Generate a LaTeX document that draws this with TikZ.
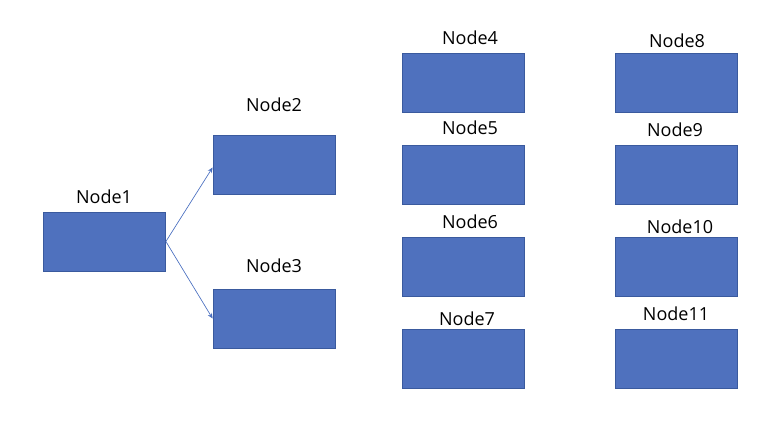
\documentclass[tikz,border=0pt]{standalone}
\usepackage{fontspec}
\setmainfont{Open Sans}
\usetikzlibrary{arrows.meta}
\definecolor{boxfill}{HTML}{4F71BE}
\definecolor{boxline}{HTML}{3A5A9E}
\definecolor{arrowc}{HTML}{4A6FC0}
\tikzset{
  blockbox/.style={draw=boxline, line width=0.6pt, fill=boxfill, minimum width=122*0.75pt, minimum height=59*0.75pt, inner sep=0pt},
  lbl/.style={font=\fontsize{13.5}{16}\selectfont, text=black, inner sep=0pt},
  conn/.style={draw=arrowc, line width=0.5pt, -{Stealth[length=4pt,width=3.5pt]}}
}
\begin{document}
\begin{tikzpicture}[x=0.75pt,y=-0.75pt]
\useasboundingbox (0,0) rectangle (774,424);
\node[blockbox] (n1) at (104.5,241.5) {};
\node[blockbox] (n2) at (274,164.5) {};
\node[blockbox] (n3) at (274,318.5) {};
\node[blockbox] (n4) at (463,82.5) {};
\node[blockbox] (n5) at (463,174.5) {};
\node[blockbox] (n6) at (463,266.5) {};
\node[blockbox] (n7) at (463,358.5) {};
\node[blockbox] (n8) at (676.5,82.5) {};
\node[blockbox] (n9) at (676.5,174.5) {};
\node[blockbox] (n10) at (676.5,266.5) {};
\node[blockbox] (n11) at (676.5,358.5) {};
\node[lbl] (l1) at (104,197) {Node1};
\node[lbl] (l2) at (274,105) {Node2};
\node[lbl] (l3) at (274,266) {Node3};
\node[lbl] (l4) at (470,38) {Node4};
\node[lbl] (l5) at (470,128) {Node5};
\node[lbl] (l6) at (470,222) {Node6};
\node[lbl] (l7) at (467,319) {Node7};
\node[lbl] (l8) at (677,41) {Node8};
\node[lbl] (l9) at (675,130) {Node9};
\node[lbl] (l10) at (680,227) {Node10};
\node[lbl] (l11) at (676,314) {Node11};
\coordinate (t2) at ([yshift=-3*0.75pt]n2.west);
\coordinate (t3) at ([yshift=0pt]n3.west);
\draw[conn] (n1.east) -- (t2);
\draw[conn] (n1.east) -- (t3);
\end{tikzpicture}
\end{document}
